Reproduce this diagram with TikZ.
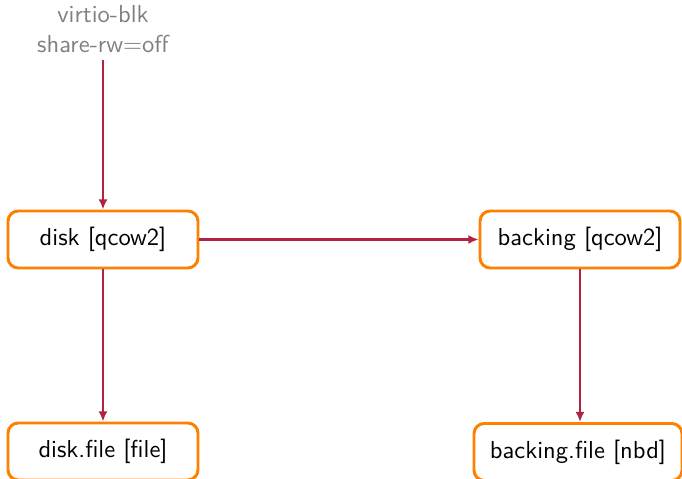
\documentclass[tikz,border=0pt]{standalone}
\usetikzlibrary{arrows.meta}
\definecolor{boxorange}{HTML}{FF8000}
\definecolor{arrowred}{HTML}{B0243F}
\definecolor{labelgray}{HTML}{808080}
\begin{document}
\begin{tikzpicture}[x=0.44pt,y=-0.44pt,
  blk/.style={draw=boxorange,line width=1.3pt,rounded corners=4.5pt,
    font=\sffamily\fontsize{10.8}{12}\selectfont,inner sep=0pt,minimum height=57*0.44pt},
  link/.style={draw=arrowred,line width=0.9pt,-{Latex[length=4.5pt,width=4pt]}},
  lbl/.style={text=labelgray,font=\sffamily\fontsize{10.8}{13.2}\selectfont,align=center}]
\useasboundingbox (0,0) rectangle (682,479);
\node[lbl] (top) at (103,29) {virtio-blk\\share-rw=off};
\node[blk,minimum width=190*0.44pt] (disk) at (103,239.5) {disk [qcow2]};
\node[blk,minimum width=200*0.44pt] (backing) at (580,239.5) {backing [qcow2]};
\node[blk,minimum width=190*0.44pt] (diskfile) at (103,451.5) {disk.file [file]};
\node[blk,minimum width=208*0.44pt] (backingfile) at (578,452) {backing.file [nbd]};
\coordinate (topend) at (103,60);
\draw[link] (topend) -- (disk.north);
\draw[link] (disk.east) -- (backing.west);
\draw[link] (disk.south) -- (diskfile.north);
\draw[link] (backing.south) -- (backing.south |- backingfile.north);
\end{tikzpicture}
\end{document}
